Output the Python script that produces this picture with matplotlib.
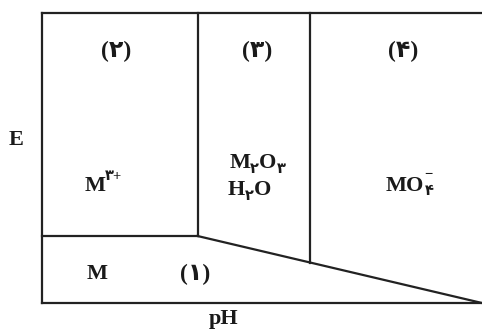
import matplotlib
matplotlib.use("Agg")
import matplotlib.pyplot as plt

FAM = ["Liberation Serif", "DejaVu Sans"]
LINE = "#222222"
INK = "#1a1a1a"

# diagram frame (pH, E)
ph_range = [0, 14]
e_range = [0, 1.0]

# boundaries
ph_v1 = 4.95            # M3+ | M2O3
ph_v2 = 8.53            # M2O3 | MO4-
e_m = 0.231             # M | M3+
diag_ph = [4.95, 14.0]  # M | oxides, sloped line
diag_e = [0.231, 0.0]

# region numbers
num_labels = ["(۲)", "(۳)", "(۴)", "(۱)"]
num_ph = [2.35, 6.85, 11.5, 4.87]
num_e = [0.866, 0.866, 0.866, 0.10]

fig = plt.figure(figsize=(4.82, 3.33), dpi=100)
ax = fig.add_axes([42 / 482, 30 / 333, 440 / 482, 290 / 333])
ax.set_xlim(ph_range)
ax.set_ylim(e_range)
ax.axis("off")

lw = 1.6
kw = dict(color=LINE, lw=lw, clip_on=False, solid_capstyle="projecting")
# frame: left, top, bottom (right side is cut off in the original)
ax.plot([0, 0], e_range, **kw)
ax.plot(ph_range, [1, 1], **kw)
ax.plot(ph_range, [0, 0], **kw)
# boundaries
ax.plot([ph_v1, ph_v1], [e_m, 1], **kw)
ax.plot([0, ph_v1], [e_m, e_m], **kw)
ax.plot(diag_ph, diag_e, **kw)
e_v2 = diag_e[0] + (ph_v2 - diag_ph[0]) * (diag_e[1] - diag_e[0]) / (diag_ph[1] - diag_ph[0])
ax.plot([ph_v2, ph_v2], [e_v2, 1], **kw)

for s, x, y in zip(num_labels, num_ph, num_e):
    ax.text(x, y, s, ha="center", va="center", fontsize=17, fontweight="bold",
            family=FAM, color=INK)

renderer = fig.canvas.get_renderer()


def formula(x, y, parts, size=16):
    items = []
    for s, kind in parts:
        fs = size if kind == "base" else size * 0.66
        dy = {"base": 0, "sub": -0.28 * size, "sup": 0.42 * size, "stack": 0.5 * size}[kind]
        t = ax.annotate(s, (x, y), xytext=(0, dy), textcoords="offset points",
                        ha="left", va="center", fontsize=fs, fontweight="bold",
                        family=FAM, color=INK)
        w = t.get_window_extent(renderer).width * 72 / fig.dpi
        items.append((t, w, dy, kind))
    total = sum(w for _, w, _, k in items if k != "stack")
    pos = -total / 2
    last = pos
    for t, w, dy, kind in items:
        if kind == "stack":
            t.set_position((last, dy))
            continue
        t.set_position((pos, dy))
        last = pos
        pos += w


formula(1.95, 0.405, [("M", "base"), ("۳+", "sup")])
formula(6.85, 0.482, [("M", "base"), ("۲", "sub"), ("O", "base"), ("۳", "sub")])
formula(6.6, 0.39, [("H", "base"), ("۲", "sub"), ("O", "base")])
formula(11.7, 0.405, [("MO", "base"), ("۴", "sub"), ("−", "stack")])
ax.text(1.75, 0.10, "M", ha="center", va="center", fontsize=16, fontweight="bold",
        family=FAM, color=INK)

fig.text(16 / 482, 1 - 140 / 333, "E", ha="center", va="center", fontsize=16,
         fontweight="bold", family=FAM, color=INK)
fig.text(224 / 482, 1 - 319 / 333, "pH", ha="center", va="center", fontsize=16,
         fontweight="bold", family=FAM, color=INK)

fig.savefig("out.png", dpi=100)
